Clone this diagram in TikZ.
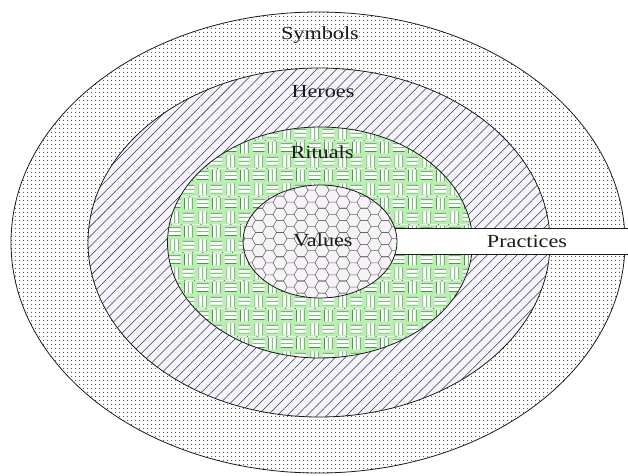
\documentclass[tikz,border=0pt]{standalone}
\usepackage{fontspec}
\newfontfamily\lblfont[FakeStretch=1.2]{Liberation Serif}
\usetikzlibrary{patterns.meta}
\definecolor{herobg}{HTML}{F4F4FA}
\definecolor{heroline}{HTML}{383850}
\definecolor{weavebg}{HTML}{BDEDB4}
\definecolor{weaveline}{HTML}{3E9E3E}
\definecolor{valbg}{HTML}{F6F3F6}
\definecolor{inkc}{HTML}{1A1A1A}
\tikzdeclarepattern{
  name=hexcells, type=uncolored,
  bounding box={(-1pt,-1pt) and (22pt,13.124pt)},
  tile size={(21pt,12.124pt)},
  code={
    \draw[line width=0.55pt] (0pt,6.062pt) -- (3.5pt,0pt) -- (10.5pt,0pt) -- (14pt,6.062pt) -- (10.5pt,12.124pt) -- (3.5pt,12.124pt) -- cycle (14pt,6.062pt) -- (21pt,6.062pt);
  }
}
\tikzdeclarepattern{
  name=weave, type=colored,
  bounding box={(0pt,0pt) and (28pt,28pt)},
  tile size={(28pt,28pt)},
  code={
    \fill[weavebg] (0pt,0pt) rectangle (28pt,28pt);
    \fill[white] (3pt,1pt) rectangle (11pt,13pt);
    \fill[white] (17pt,15pt) rectangle (25pt,27pt);
    \fill[white] (15pt,3pt) rectangle (27pt,11pt);
    \fill[white] (1pt,17pt) rectangle (13pt,25pt);
    \draw[weaveline,line width=0.7pt]
      (3pt,1pt) -- (3pt,13pt) (7pt,1pt) -- (7pt,13pt) (11pt,1pt) -- (11pt,13pt)
      (17pt,15pt) -- (17pt,27pt) (21pt,15pt) -- (21pt,27pt) (25pt,15pt) -- (25pt,27pt)
      (15pt,3pt) -- (27pt,3pt) (15pt,7pt) -- (27pt,7pt) (15pt,11pt) -- (27pt,11pt)
      (1pt,17pt) -- (13pt,17pt) (1pt,21pt) -- (13pt,21pt) (1pt,25pt) -- (13pt,25pt);
  }
}
\begin{document}
\begin{tikzpicture}[x=1pt,y=-1pt,
  ring/.style={draw=inkc, line width=0.8pt},
  lbl/.style={font=\lblfont\fontsize{18.5}{20}\selectfont, text=inkc, inner sep=0pt}]
\useasboundingbox (0,0) rectangle (628,475);
\fill[white] (0,0) rectangle (628,475);
% Symbols
\path[ring, preaction={fill=white}, pattern={Dots[distance=4pt, radius=0.75pt]}, pattern color=black!70]
  (318,242.5) ellipse [x radius=307, y radius=230.5];
% Heroes
\path[ring, preaction={fill=herobg}, pattern={Lines[angle=45, distance=7pt, line width=0.55pt]}, pattern color=heroline]
  (319,242.5) ellipse [x radius=231, y radius=174.5];
% Rituals
\path[ring, pattern=weave]
  (320,242.5) ellipse [x radius=152.5, y radius=115.5];
% Practices band
\fill[white] (360,228) rectangle (628,254);
\draw[inkc, line width=0.8pt] (360,228) -- (628,228) (360,254) -- (628,254);
% Values
\path[ring, preaction={fill=valbg}, pattern=hexcells, pattern color=black!60]
  (320,241.5) ellipse [x radius=77, y radius=56.5];
% Labels
\node[lbl] (symbols) at (320,35) {Symbols};
\node[lbl] (heroes) at (323,92) {Heroes};
\node[lbl] (rituals) at (322,152) {Rituals};
\node[lbl] (values) at (323,240) {Values};
\node[lbl] (practices) at (527,241) {Practices};
\end{tikzpicture}
\end{document}
